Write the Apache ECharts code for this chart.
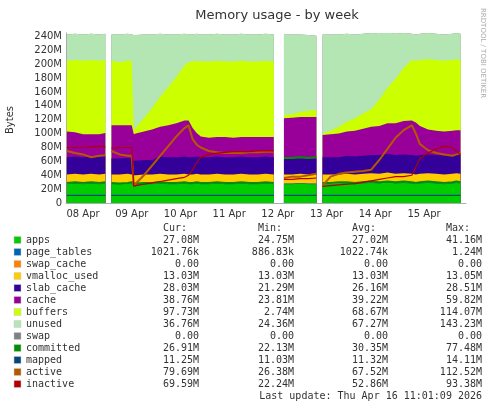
<!DOCTYPE html>
<html><head><meta charset="utf-8">
<script src="https://cdn.jsdelivr.net/npm/echarts@6/dist/echarts.min.js"></script>
<style>html,body{margin:0;padding:0;background:#fff}#chart{width:497px;height:408px}</style>
</head><body><div id="chart"></div>
<script>
var N = null;
// hours since 08 Apr 00:00
var hours = [4,8,12,16,20,23,24.5, 26,30,34,36,37,38,42,46,50,54,58,62,64,66,68,70,74,78,82,86,90,94,98,102,106, 108.5,
  111,115,119,123,127, 128.8, 130,134,138,142,146,150,154,158,162,166,170,174,176,178,182,186,190,194,196,198, 199.2, 200];
var dayLabels = ['08 Apr','09 Apr','10 Apr','11 Apr','12 Apr','13 Apr','14 Apr','15 Apr'];

var apps = [27,28,27,28,27,28,N, 27,27,28,27,26,26,27,27,28,27,27,28,27,27,28,27,27,28,27,27,28,27,27,28,27,N,
  27,27,28,27,27,N, 27,27,27,28,27,28,29,28,30,28,29,28,27,28,29,28,27,28,29,28,N,27];
var pageTables = [1,1,1,1,1,1,N, 1,1,1,1,1,1,1,1,1,1,1,1,1,1,1,1,1,1,1,1,1,1,1,1,1,N, 1,1,1,1,1,N, 1,1,1,1,1,1,1,1,1,1,1,1,1,1,1,1,1,1,1,1,N,1];
var swapCache = [0,0,0,0,0,0,N, 0,0,0,0,0,0,0,0,0,0,0,0,0,0,0,0,0,0,0,0,0,0,0,0,0,N, 0,0,0,0,0,N, 0,0,0,0,0,0,0,0,0,0,0,0,0,0,0,0,0,0,0,0,N,0];
var vmalloc = [13,13,13,13,13,13,N, 13,13,13,13,13,13,13,13,13,13,13,13,13,13,13,13,13,13,13,13,13,13,13,13,13,N, 13,13,13,13,13,N, 13,13,13,13,13,13,13,13,13,13,13,13,13,13,13,13,13,13,13,13,N,13];
var slab = [25,25,25,25,25,25,N, 23,23,23,23,21,21,21,21,25,25,25,25,25,25,25,25,25,25,25,25,25,25,25,25,25,N,
  23,23,23,23,23,N, 25,25,25,26,26,26,26,27,27,27,27,27,27,27,27,27,27,27,27,27,N,27];
var cache = [37,35,33,32,33,34,N, 48,48,47,48,38,39,41,44,43,46,49,52,53,42,34,30,28,28,29,28,28,29,29,28,29,N,
  58,59,59,60,60,N, 32,33,34,35,37,39,41,42,44,46,48,50,48,42,36,35,35,35,35,36,N,40];
var buffers = [102,104,106,107,106,105,N, 93,91,93,93,5,9,19,31,43,55,67,79,84,96,104,108,110,110,109,110,110,109,109,110,109,N,
  5,5,7,9,10,N, 2,5,10,14,18,22,25,38,51,64,77,87,89,95,101,102,102,102,102,101,N,97];
var unused = [38,38,38,38,38,38,N, 38,40,39,38,138,133,121,106,91,76,61,46,40,39,39,39,39,39,39,39,39,39,39,39,39,N,
  116,115,112,109,107,N, 143,139,133,127,121,115,110,95,80,65,50,38,38,38,38,38,38,38,38,38,N,37];
var swap = [0,0,0,0,0,0,N, 0,0,0,0,0,0,0,0,0,0,0,0,0,0,0,0,0,0,0,0,0,0,0,0,0,N, 0,0,0,0,0,N, 0,0,0,0,0,0,0,0,0,0,0,0,0,0,0,0,0,0,0,0,N,0];
var committed = [29,30,29,30,29,30,N, 29,28,29,30,28,28,29,29,30,29,29,30,29,29,30,29,29,30,29,29,30,29,29,30,29,N,
  65,65,66,65,66,N, 29,29,30,30,29,30,31,30,31,30,31,30,29,30,31,30,29,30,31,30,N,27];
var mapped = [11,11,11,11,11,11,N, 11,11,11,11,11,11,11,11,11,11,11,11,11,11,11,11,11,11,11,11,11,11,11,11,11,N, 11,11,11,11,11,N, 11,11,11,11,11,11,11,11,11,11,11,11,11,11,11,11,11,11,11,11,N,11];
var active = [75,72,70,66,68,69,N, 75,70,68,68,25,28,40,54,68,82,96,108,112,92,84,80,75,73,72,72,72,73,73,74,74,N,
  36,38,38,40,42,N, 25,38,42,44,45,46,48,62,78,94,105,112,100,85,76,72,70,68,70,72,N,80];
var inactive = [80,80,80,81,82,81,N, 79,80,80,80,24,25,27,29,31,33,35,37,40,48,58,66,70,72,73,74,74,74,75,75,75,N,
  34,34,35,35,36,N, 24,25,26,27,28,30,32,34,36,38,38,40,52,64,72,78,82,80,74,70,N,70];

var names = ['apps','page_tables','swap_cache','vmalloc_used','slab_cache','cache','buffers','unused','swap','committed','mapped','active','inactive'];
var colors = ['#00CC00','#0066B3','#FF8000','#FFCC00','#330099','#990099','#CCFF00','#B3E6B3','#808080','#008F00','#00487D','#B35A00','#B30000'];
var curVals = ['27.08M','1021.76k','0.00','13.03M','28.03M','38.76M','97.73M','36.76M','0.00','26.91M','11.25M','79.69M','69.59M'];
var minVals = ['24.75M','886.83k','0.00','13.03M','21.29M','23.81M','2.74M','24.36M','0.00','22.13M','11.03M','26.38M','22.24M'];
var avgVals = ['27.02M','1022.74k','0.00','13.03M','26.16M','39.22M','68.67M','67.27M','0.00','30.35M','11.32M','67.52M','52.86M'];
var maxVals = ['41.16M','1.24M','0.00','13.05M','28.51M','59.82M','114.07M','143.23M','0.00','77.48M','14.11M','112.52M','93.38M'];

var stacked = [apps,pageTables,swapCache,vmalloc,slab,cache,buffers,unused,swap];
var lines = [committed,mapped,active,inactive];

// running totals: each layer is drawn from the axis up to its top, lower layers on top
var running = hours.map(function(){ return 0; });
var series = [];
stacked.forEach(function(arr,i){
  running = running.map(function(s,k){ return (s === null || arr[k] === null) ? null : s + arr[k]; });
  var tops = running.slice();
  series.push({name:names[i], type:'line', data:hours.map(function(h,k){ return [h, tops[k]]; }),
    showSymbol:false, symbol:'none', lineStyle:{width:0}, areaStyle:{color:colors[i], opacity:1},
    itemStyle:{color:colors[i]}, connectNulls:false, z:2, silent:true});
});
series.reverse();
lines.forEach(function(arr,j){
  var i = 9 + j;
  series.push({name:names[i], type:'line', data:hours.map(function(h,k){ return [h, arr[k]]; }),
    showSymbol:false, symbol:'none', lineStyle:{width:(i===11||i===9?2:1.2), color:colors[i]},
    itemStyle:{color:colors[i]}, connectNulls:false, z:5});
});

var mono = 'DejaVu Sans Mono';
var g = [];
var rowY = 240, rowH = 12;
[['Cur:',199],['Min:',294],['Avg:',388],['Max:',482]].forEach(function(h){
  g.push({type:'text', x:h[1]-12, y:228, style:{text:h[0], font:'10px '+mono, fill:'#333', textAlign:'right', textVerticalAlign:'middle'}});
});
names.forEach(function(n,i){
  var y = rowY + i*rowH;
  g.push({type:'rect', shape:{x:14, y:y-3.5, width:7, height:7}, style:{fill:colors[i], stroke:'#ccc', lineWidth:0.5}});
  g.push({type:'text', x:26, y:y, style:{text:n, font:'10px '+mono, fill:'#333', textVerticalAlign:'middle'}});
  [[curVals,199],[minVals,294],[avgVals,388],[maxVals,482]].forEach(function(c){
    g.push({type:'text', x:c[1], y:y, style:{text:c[0][i], font:'10px '+mono, fill:'#333', textAlign:'right', textVerticalAlign:'middle'}});
  });
});
g.push({type:'text', x:482, y:396, style:{text:'Last update: Thu Apr 16 11:01:09 2026', font:'10px '+mono, fill:'#333', textAlign:'right', textVerticalAlign:'middle'}});
g.push({type:'text', x:486, y:8, rotation:-Math.PI/2, style:{text:'RRDTOOL / TOBI OETIKER', font:'7px DejaVu Sans', fill:'#aaa'}});
g.push({type:'text', x:10, y:120, rotation:Math.PI/2, style:{text:'Bytes', font:'10px DejaVu Sans', fill:'#333', textAlign:'center', textVerticalAlign:'middle'}});

var chart = echarts.init(document.getElementById('chart'));
chart.setOption({
  backgroundColor:'#fff',
  animation:false,
  title:{text:'Memory usage - by week', left:272, top:4, textAlign:'center',
    textStyle:{fontFamily:'DejaVu Sans', fontSize:13, fontWeight:'normal', color:'#333'}},
  grid:{left:66, right:31, top:33, bottom:205},
  xAxis:{type:'value', min:3.6, max:200.7,
    axisLine:{lineStyle:{color:'#aab'}},
    axisTick:{show:false},
    axisLabel:{customValues:[12,36,60,84,108,132,156,180], fontFamily:'DejaVu Sans', fontSize:10, color:'#333', margin:6,
      formatter:function(v){ return dayLabels[Math.round((v-12)/24)]; }},
    splitLine:{show:false}
  },
  yAxis:{type:'value', min:0, max:245, interval:20,
    axisLine:{show:true, lineStyle:{color:'#aab'}}, axisTick:{show:false},
    axisLabel:{fontFamily:'DejaVu Sans', fontSize:10, color:'#333', showMaxLabel:false, margin:4,
      formatter:function(v){ return v===0 ? '0' : v+'M'; }},
    splitLine:{show:false}
  },
  series:series,
  graphic:g
});
</script></body></html>
